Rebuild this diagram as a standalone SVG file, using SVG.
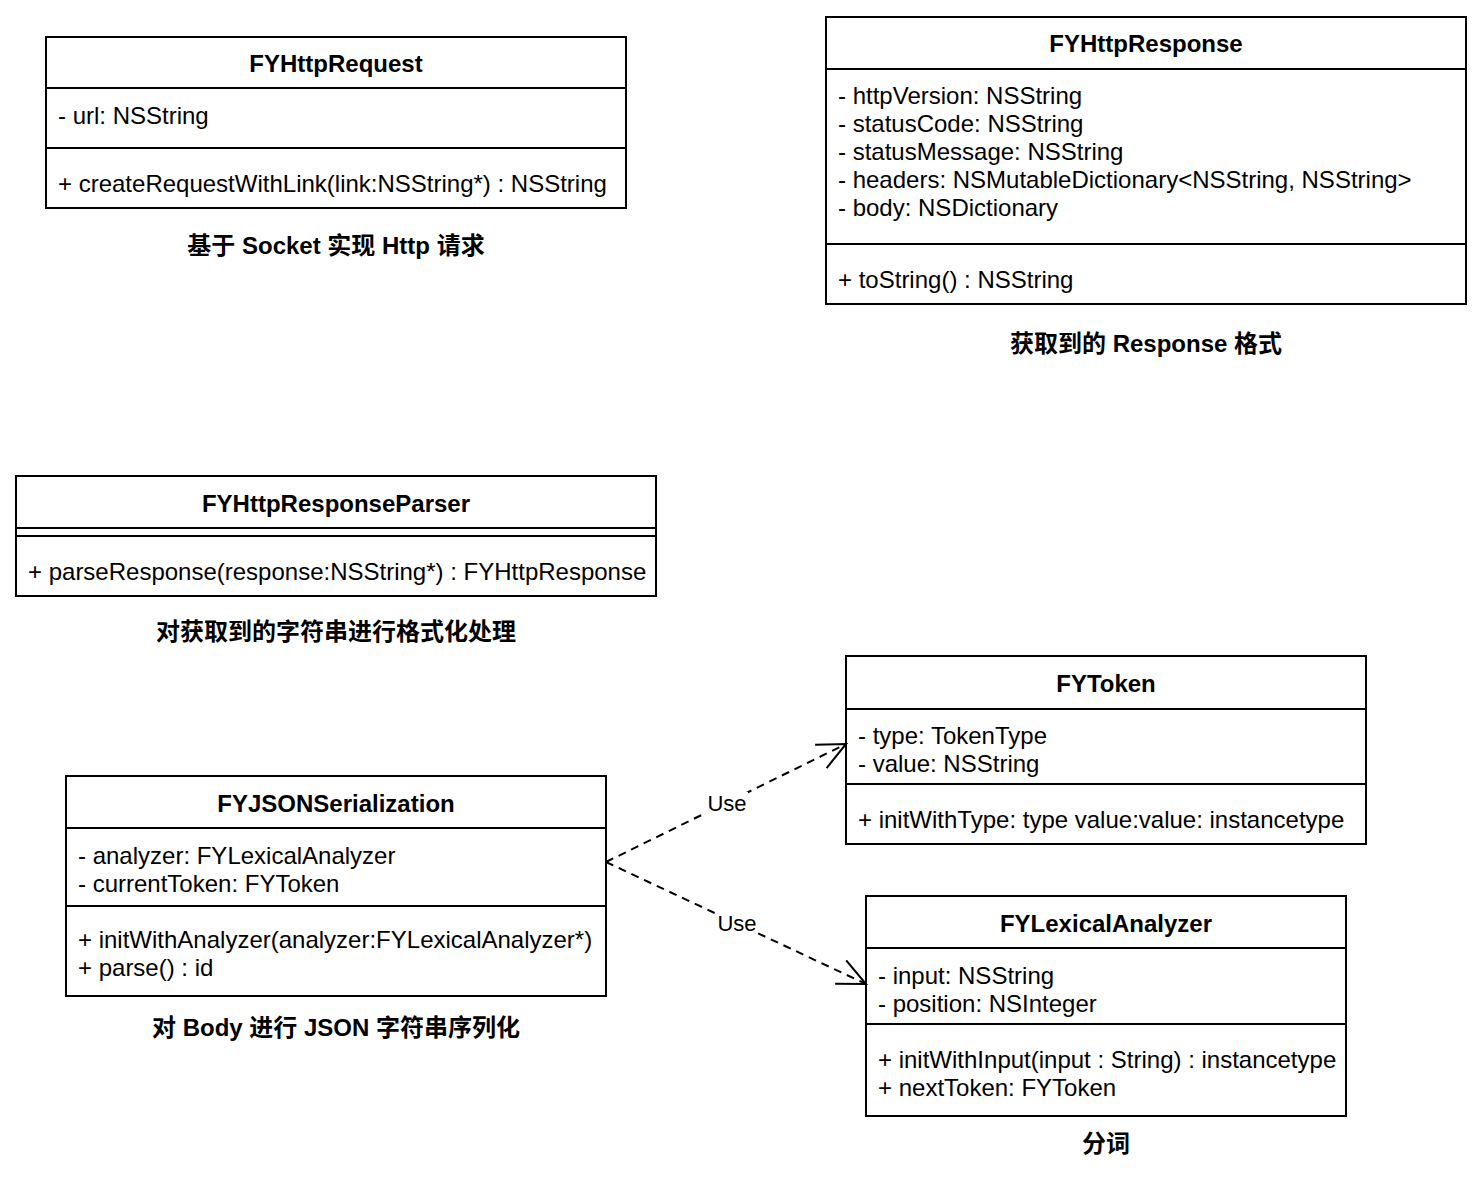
<svg xmlns="http://www.w3.org/2000/svg" width="1484" height="1188" viewBox="0 0 1484 1188">
<style>
.box{fill:#fff;stroke:#000;stroke-width:2}
.div{stroke:#000;stroke-width:2}
text{font-family:"Liberation Sans","Noto Sans CJK SC",Arial,sans-serif;font-size:24px;fill:#000}
.title{font-weight:bold;text-anchor:middle}
.cap{font-weight:bold;text-anchor:middle}
.lbl{font-size:22px;text-anchor:middle}
.edge{fill:none;stroke:#000;stroke-width:2;stroke-dasharray:8 6}
</style>
<defs>
<marker id="open" markerUnits="userSpaceOnUse" orient="auto" refX="0" refY="0" markerWidth="40" markerHeight="40" viewBox="-35 -20 40 40" overflow="visible">
<path d="M-28,-13 L0,0 L-28,13" fill="none" stroke="#000" stroke-width="2" stroke-dasharray="none"/>
</marker>
</defs>
<rect width="1484" height="1188" fill="#fff"/>

<g id="FYHttpRequest">
<rect class="box" x="46" y="37" width="580" height="171"/>
<line class="div" x1="46" y1="88" x2="626" y2="88"/>
<line class="div" x1="46" y1="148" x2="626" y2="148"/>
<text class="title" x="336" y="72">FYHttpRequest</text>
<text x="58" y="124">- url: NSString</text>
<text x="58" y="192">+ createRequestWithLink(link:NSString*) : NSString</text>
<text class="cap" x="336" y="254">基于 Socket 实现 Http 请求</text>
</g>

<g id="FYHttpResponse">
<rect class="box" x="826" y="17" width="640" height="287"/>
<line class="div" x1="826" y1="69" x2="1466" y2="69"/>
<line class="div" x1="826" y1="244" x2="1466" y2="244"/>
<text class="title" x="1146" y="52">FYHttpResponse</text>
<text x="838" y="104">- httpVersion: NSString</text>
<text x="838" y="132">- statusCode: NSString</text>
<text x="838" y="160">- statusMessage: NSString</text>
<text x="838" y="188">- headers: NSMutableDictionary&lt;NSString, NSString&gt;</text>
<text x="838" y="216">- body: NSDictionary</text>
<text x="838" y="288">+ toString() : NSString</text>
<text class="cap" x="1146" y="352">获取到的 Response 格式</text>
</g>

<g id="FYHttpResponseParser">
<rect class="box" x="16" y="476" width="640" height="120"/>
<line class="div" x1="16" y1="528" x2="656" y2="528"/>
<line class="div" x1="16" y1="536" x2="656" y2="536"/>
<text class="title" x="336" y="512">FYHttpResponseParser</text>
<text x="28" y="580">+ parseResponse(response:NSString*) : FYHttpResponse</text>
<text class="cap" x="336" y="640">对获取到的字符串进行格式化处理</text>
</g>

<g id="FYToken">
<rect class="box" x="846" y="656" width="520" height="188"/>
<line class="div" x1="846" y1="709" x2="1366" y2="709"/>
<line class="div" x1="846" y1="784" x2="1366" y2="784"/>
<text class="title" x="1106" y="692">FYToken</text>
<text x="858" y="744">- type: TokenType</text>
<text x="858" y="772">- value: NSString</text>
<text x="858" y="828">+ initWithType: type value:value: instancetype</text>
</g>

<g id="FYJSONSerialization">
<rect class="box" x="66" y="776" width="540" height="220"/>
<line class="div" x1="66" y1="828" x2="606" y2="828"/>
<line class="div" x1="66" y1="906" x2="606" y2="906"/>
<text class="title" x="336" y="812">FYJSONSerialization</text>
<text x="78" y="864">- analyzer: FYLexicalAnalyzer</text>
<text x="78" y="892">- currentToken: FYToken</text>
<text x="78" y="948">+ initWithAnalyzer(analyzer:FYLexicalAnalyzer*)</text>
<text x="78" y="976">+ parse() : id</text>
<text class="cap" x="336" y="1036">对 Body 进行 JSON 字符串序列化</text>
</g>

<g id="FYLexicalAnalyzer">
<rect class="box" x="866" y="896" width="480" height="220"/>
<line class="div" x1="866" y1="948" x2="1346" y2="948"/>
<line class="div" x1="866" y1="1024" x2="1346" y2="1024"/>
<text class="title" x="1106" y="932">FYLexicalAnalyzer</text>
<text x="878" y="984">- input: NSString</text>
<text x="878" y="1012">- position: NSInteger</text>
<text x="878" y="1068">+ initWithInput(input : String) : instancetype</text>
<text x="878" y="1096">+ nextToken: FYToken</text>
<text class="cap" x="1106" y="1152">分词</text>
</g>

<g id="connectors">
<path class="edge" d="M606,862 L846,744" marker-end="url(#open)"/>
<path class="edge" d="M606,862 L866,984" marker-end="url(#open)"/>
<rect x="706" y="792" width="42" height="22" fill="#fff"/>
<text class="lbl" x="727" y="811">Use</text>
<rect x="716" y="912" width="42" height="22" fill="#fff"/>
<text class="lbl" x="737" y="931">Use</text>
</g>
</svg>
